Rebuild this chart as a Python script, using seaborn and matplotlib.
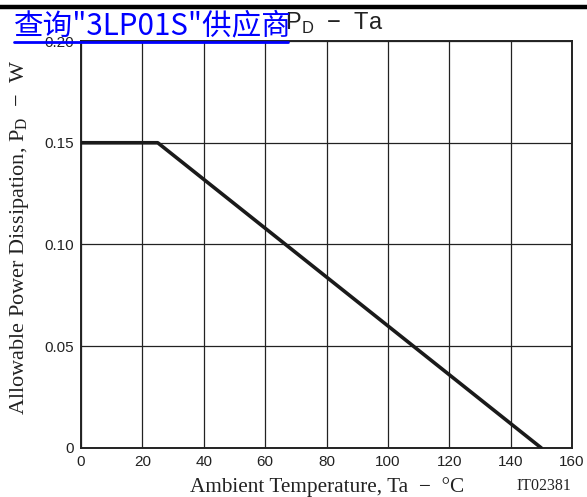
import matplotlib
matplotlib.use("Agg")
import matplotlib.pyplot as plt
import seaborn as sns
import pandas as pd

# Derating curve: allowable power dissipation vs ambient temperature
temperature_c = [0, 25, 150]
power_w = [0.15, 0.15, 0.0]
x_ticks = [0, 20, 40, 60, 80, 100, 120, 140, 160]
y_ticks = [0, 0.05, 0.10, 0.15, 0.20]
y_tick_labels = ["0", "0.05", "0.10", "0.15", "0.20"]

sns.set_theme(style="white")
plt.rcParams["font.family"] = ["Liberation Sans", "DejaVu Sans"]

df = pd.DataFrame({"Ta": temperature_c, "PD": power_w})

fig = plt.figure(figsize=(5.87, 4.97), dpi=100)
ax = fig.add_axes([0.138, 0.0986, 0.8365, 0.8189])

sns.lineplot(data=df, x="Ta", y="PD", ax=ax, color="#1a1a1a", linewidth=2.6,
             sort=False, zorder=3)

ax.set_xlim(0, 160)
ax.set_ylim(0, 0.20)
ax.set_xticks(x_ticks)
ax.set_yticks(y_ticks)
ax.set_yticklabels(y_tick_labels)
ax.tick_params(axis="both", length=0, labelsize=11, colors="#222222", pad=5)
ax.grid(True, color="#222222", linewidth=0.9)
for s in ax.spines.values():
    s.set_color("#222222")
    s.set_linewidth(1.4)

ax.set_xlabel("Ambient Temperature, Ta  \u2212  \u00b0C", family="Liberation Serif",
              fontsize=15.3, color="#222222")
ax.set_ylabel("Allowable Power Dissipation, P$_\\mathregular{D}$  \u2212  W",
              family="Liberation Serif", fontsize=16, color="#222222")
ax.xaxis.set_label_coords(0.502, -0.072)
ax.yaxis.set_label_coords(-0.101, 0.518)

fig.text(0.927, 0.022, "IT02381", family="Liberation Serif", fontsize=11.4,
         color="#222222", ha="center", va="center")

# Chart title
fig.text(0.485, 0.952, "P$_\\mathregular{D}$  \u2212  Ta", fontsize=17,
         color="#222222", ha="left", va="center")

# Heavy rule along the top edge of the page
fig.add_artist(plt.Line2D([0, 1], [0.986, 0.986], color="black", linewidth=3.2))

# Supplier link overlay
fig.text(0.024, 0.930, "查询\"3LP01S\"供应商",
         family=["Noto Sans CJK SC", "DejaVu Sans"],
         fontsize=21.3, color="#0000ff", ha="left", va="baseline")
fig.add_artist(plt.Line2D([0.023, 0.490], [0.916, 0.916], color="#0000ff", linewidth=2))

fig.savefig("out.png", dpi=100)
